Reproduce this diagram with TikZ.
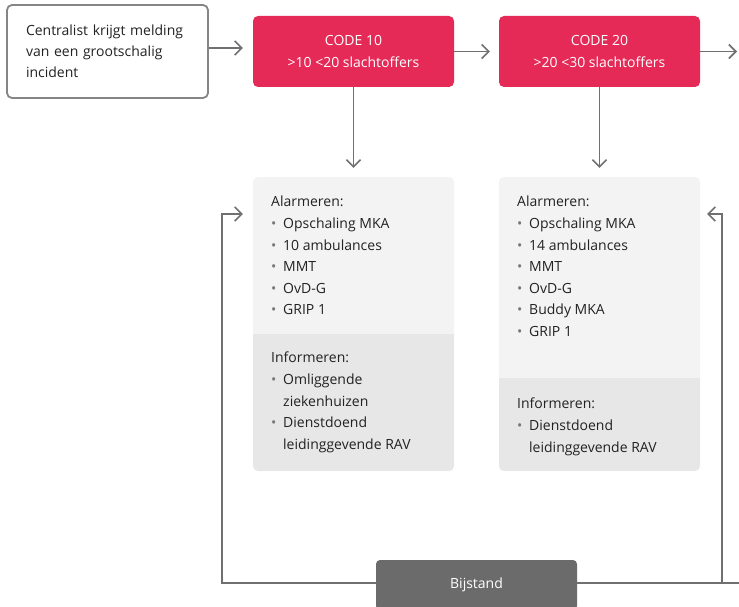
\documentclass[tikz,border=0pt]{standalone}
\usepackage{fontspec}
\setmainfont{Open Sans}
\usetikzlibrary{arrows.meta}
\definecolor{codered}{HTML}{E52A57}
\definecolor{linegray}{HTML}{707070}
\definecolor{panellight}{HTML}{F3F3F3}
\definecolor{paneldark}{HTML}{E7E7E7}
\definecolor{darkbox}{HTML}{6B6B6B}
\definecolor{textdark}{HTML}{222222}
\definecolor{bulletgray}{HTML}{777777}
\newcommand{\bul}{\makebox[12pt][l]{\textcolor{bulletgray}{\fontsize{14}{14}\selectfont\textbullet}}}
\newcommand{\ind}{\hspace*{12pt}}
\begin{document}
\begin{tikzpicture}[x=1pt,y=-1pt,
  every node/.style={font=\fontsize{14}{21}\selectfont},
  startbox/.style={draw=linegray!85, line width=1.8pt, fill=white, rounded corners=5pt,
    minimum width=201pt, minimum height=93pt, text width=163pt, align=left,
    text=textdark, inner sep=0pt},
  codebox/.style={fill=codered, rounded corners=5pt, minimum width=201pt,
    minimum height=71pt, text=white, align=center, inner sep=0pt},
  panel/.style={fill=panellight, rounded corners=5pt, minimum width=201pt,
    minimum height=294pt, inner sep=0pt},
  listtext/.style={anchor=north west, inner sep=0pt, align=left, text=textdark,
    font=\fontsize{14}{21.6}\selectfont},
  helpbox/.style={fill=darkbox, rounded corners=4pt, minimum width=201pt,
    minimum height=50pt, text=white, inner sep=0pt},
  flow/.style={draw=linegray, line width=1.9pt, -{Straight Barb[length=7pt,width=14pt,line width=1.6pt]}},
  plain/.style={draw=linegray, line width=1.9pt}
]
\useasboundingbox (0,0) rectangle (739,607);

% top row
\node[startbox] (start) at (107.5,51.5) {Centralist krijgt melding\\van een grootschalig\\incident};
\node[codebox] (c10) at (353.5,51.5) {CODE 10\\[1pt]>10 <20 slachtoffers};
\node[codebox] (c20) at (599.5,51.5) {CODE 20\\[1pt]>20 <30 slachtoffers};
\coordinate (out) at (739,51.5);

% panels
\node[panel] (p1) at (353.5,324) {};
\node[panel] (p2) at (599.5,324) {};
\begin{scope}
  \clip[rounded corners=5pt] (253,177) rectangle (454,471);
  \fill[paneldark] (253,334) rectangle (454,471);
\end{scope}
\begin{scope}
  \clip[rounded corners=5pt] (499,177) rectangle (700,471);
  \fill[paneldark] (499,378) rectangle (700,471);
\end{scope}

\node[listtext] (a1) at (271,196) {Alarmeren:\\\bul Opschaling MKA\\\bul 10 ambulances\\\bul MMT\\\bul OvD-G\\\bul GRIP 1};
\node[listtext] (i1) at (271,352) {Informeren:\\\bul Omliggende\\\ind ziekenhuizen\\\bul Dienstdoend\\\ind leidinggevende RAV};
\node[listtext] (a2) at (517,196) {Alarmeren:\\\bul Opschaling MKA\\\bul 14 ambulances\\\bul MMT\\\bul OvD-G\\\bul Buddy MKA\\\bul GRIP 1};
\node[listtext] (i2) at (517,398) {Informeren:\\\bul Dienstdoend\\\ind leidinggevende RAV};

% bottom box
\node[helpbox] (help) at (476.5,585) {Bijstand};

% connectors along the top row
\draw[flow, shorten >=10pt] (start.east |- 0,48) -- (c10.west |- 0,48);
\draw[flow, shorten >=9pt] (c10.east) -- (c20.west);
\draw[flow, shorten >=2pt] (c20.east) -- (out);
\draw[flow, shorten >=9pt] (c10.south) -- (p1.north);
\draw[flow, shorten >=9pt] (c20.south) -- (p2.north);

% feedback loops from Bijstand
\coordinate (lb) at (222,583);
\coordinate (rb) at (722,583);
\coordinate (edge) at (739,583);
\draw[flow, shorten >=10pt] (help.west |- lb) -- (lb) -- (lb |- 0,214) -- (p1.west |- 0,214);
\draw[flow, shorten >=7pt] (help.east |- rb) -- (rb) -- (rb |- 0,214) -- (p2.east |- 0,214);
\draw[plain] (rb) -- (edge);
\end{tikzpicture}
\end{document}
